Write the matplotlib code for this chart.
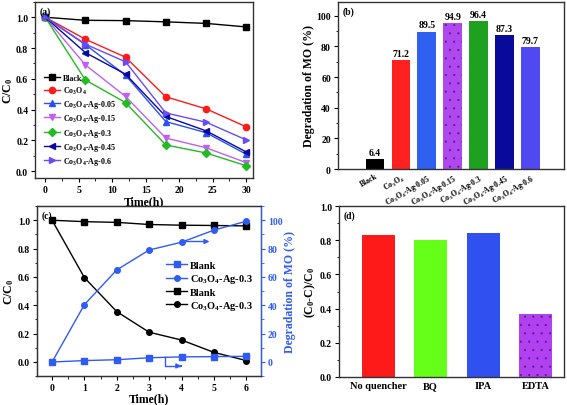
import matplotlib
matplotlib.use("Agg")
import matplotlib.pyplot as plt
import matplotlib.transforms as mtransforms
from matplotlib.ticker import MultipleLocator

plt.rcParams['font.family'] = ['Liberation Serif', 'DejaVu Serif']
plt.rcParams['font.weight'] = 'bold'
plt.rcParams['axes.labelweight'] = 'bold'
plt.rcParams['mathtext.fontset'] = 'custom'
plt.rcParams['mathtext.rm'] = 'Liberation Serif:bold'
plt.rcParams['mathtext.bf'] = 'Liberation Serif:bold'
plt.rcParams['mathtext.it'] = 'Liberation Serif:bold:italic'
plt.rcParams['mathtext.default'] = 'regular'
plt.rcParams['hatch.linewidth'] = 0.3

# (a) C/C0 vs time for all samples
time_a = [0, 6, 12, 18, 24, 30]
black_a = [1.0, 0.98, 0.978, 0.97, 0.96, 0.937]
co3o4_a = [1.0, 0.857, 0.74, 0.483, 0.405, 0.288]
ag005_a = [1.0, 0.822, 0.623, 0.322, 0.25, 0.11]
ag015_a = [1.0, 0.69, 0.485, 0.215, 0.152, 0.055]
ag03_a = [1.0, 0.592, 0.445, 0.17, 0.118, 0.035]
ag045_a = [1.0, 0.77, 0.63, 0.355, 0.262, 0.125]
ag06_a = [1.0, 0.825, 0.71, 0.378, 0.318, 0.203]

# (b) degradation of MO
samples_b = ['Black', 'Co$_3$O$_4$', 'Co$_3$O$_4$-Ag-0.05', 'Co$_3$O$_4$-Ag-0.15',
             'Co$_3$O$_4$-Ag-0.3', 'Co$_3$O$_4$-Ag-0.45', 'Co$_3$O$_4$-Ag-0.6']
degr_b = [6.4, 71.2, 89.5, 94.9, 96.4, 87.3, 79.7]

# (c) blank vs Co3O4-Ag-0.3
time_c = [0, 1, 2, 3, 4, 5, 6]
blank_c = [1.0, 0.99, 0.985, 0.97, 0.965, 0.963, 0.96]
ag03_c = [1.0, 0.595, 0.355, 0.21, 0.155, 0.068, 0.01]
blank_deg_c = [0, 1.0, 1.6, 3.0, 3.6, 3.8, 4.0]
ag03_deg_c = [0, 40.5, 65, 79, 84.5, 93, 99.3]

# (d) quenching experiments
quencher_d = ['No quencher', 'BQ', 'IPA', 'EDTA']
ratio_d = [0.83, 0.80, 0.84, 0.37]

spine_col = '#333333'
blue_c = '#2F5BF5'


def style_axes(ax):
    for s in ax.spines.values():
        s.set_color(spine_col)
        s.set_linewidth(1.0)
    ax.tick_params(which='both', direction='out', top=False, right=False, labelsize=7, pad=2)
    ax.tick_params(which='major', length=3, width=0.8)
    ax.tick_params(which='minor', length=1.8, width=0.6)


fig = plt.figure(figsize=(5.67, 4.06), dpi=100)

# ---------- (a)
ax1 = fig.add_axes([0.062, 0.559, 0.384, 0.434])
series_a = [
    (black_a, 'Black', 'black', 's'),
    (co3o4_a, 'Co$_3$O$_4$', '#FF1A1A', 'o'),
    (ag005_a, 'Co$_3$O$_4$-Ag-0.05', '#2A50F5', '^'),
    (ag015_a, 'Co$_3$O$_4$-Ag-0.15', '#C060F0', 'v'),
    (ag03_a, 'Co$_3$O$_4$-Ag-0.3', '#22BB22', 'D'),
    (ag045_a, 'Co$_3$O$_4$-Ag-0.45', '#0A0A9A', '<'),
    (ag06_a, 'Co$_3$O$_4$-Ag-0.6', '#6A4AF5', '>'),
]
for vals, lab, col, mk in series_a:
    ms = 3.6 if mk == 'D' else 4.5
    ax1.plot(time_a, vals, color=col, marker=mk, markersize=ms, lw=1.0, label=lab)
ax1.set_xlim(-1.5, 31)
ax1.set_ylim(-0.045, 1.1)
ax1.xaxis.set_major_locator(MultipleLocator(5))
ax1.xaxis.set_minor_locator(MultipleLocator(2.5))
ax1.yaxis.set_major_locator(MultipleLocator(0.2))
ax1.yaxis.set_minor_locator(MultipleLocator(0.1))
ax1.set_xlabel('Time(h)', fontsize=8.5, labelpad=1)
ax1.set_ylabel('C/C$_0$', fontsize=8.5, labelpad=1)
style_axes(ax1)
ax1.legend(loc='lower left', bbox_to_anchor=(0.02, 0.035), frameon=False, fontsize=5.8,
           handlelength=2.0, labelspacing=0.28, handletextpad=0.3, borderaxespad=0.2)
ax1.text(0.02, 0.975, '(a)', transform=ax1.transAxes, fontsize=7, va='top')

# ---------- (b)
ax2 = fig.add_axes([0.596, 0.581, 0.399, 0.412])
cols_b = ['black', '#FF2020', '#3060F0', '#B048F0', '#20A020', '#0A0A9A', '#5048F0']
xb = list(range(len(samples_b)))
bars = ax2.bar(xb, degr_b, width=0.72, color=cols_b)
bars[3].set_hatch('..')
bars[3].set_edgecolor('#5A1A80')
bars[3].set_linewidth(0)
for x, v in zip(xb, degr_b):
    ax2.text(x, v + 1.5, f'{v:.1f}', ha='center', va='bottom', fontsize=7)
ax2.set_xlim(-1.43, 7.3)
ax2.set_ylim(0, 109)
ax2.set_xticks(xb)
ax2.set_xticklabels(samples_b, rotation=30, ha='right', rotation_mode='anchor', fontsize=5.5)
shift = mtransforms.ScaledTranslation(8 / 100, -3 / 100, fig.dpi_scale_trans)
for lab in ax2.get_xticklabels():
    lab.set_transform(lab.get_transform() + shift)
ax2.yaxis.set_major_locator(MultipleLocator(20))
ax2.yaxis.set_minor_locator(MultipleLocator(10))
ax2.set_ylabel('Degradation of MO (%)', fontsize=8.5, labelpad=1)
style_axes(ax2)
ax2.tick_params(axis='x', which='both', length=0, pad=2, labelsize=5.5)
ax2.text(0.02, 0.975, '(b)', transform=ax2.transAxes, fontsize=7, va='top')

# ---------- (c)
ax3 = fig.add_axes([0.065, 0.071, 0.395, 0.419])
l3, = ax3.plot(time_c, blank_c, color='black', marker='s', markersize=4, lw=1.0, label='Blank')
l4, = ax3.plot(time_c, ag03_c, color='black', marker='o', markersize=4, lw=1.0, label='Co$_3$O$_4$-Ag-0.3')
ax3.set_xlim(-0.47, 6.45)
ax3.set_ylim(-0.1, 1.1)
ax3.xaxis.set_major_locator(MultipleLocator(1))
ax3.xaxis.set_minor_locator(MultipleLocator(0.5))
ax3.yaxis.set_major_locator(MultipleLocator(0.2))
ax3.yaxis.set_minor_locator(MultipleLocator(0.1))
ax3.set_xlabel('Time(h)', fontsize=8.5, labelpad=0)
ax3.set_ylabel('C/C$_0$', fontsize=8.5, labelpad=1)
style_axes(ax3)
ax3.text(0.02, 0.975, '(c)', transform=ax3.transAxes, fontsize=7, va='top')

ax3r = ax3.twinx()
l1, = ax3r.plot(time_c, blank_deg_c, color=blue_c, marker='s', markersize=4, lw=1.0, label='Blank')
l2, = ax3r.plot(time_c, ag03_deg_c, color=blue_c, marker='o', markersize=4, lw=1.0, label='Co$_3$O$_4$-Ag-0.3')
ax3r.set_ylim(-10, 110)
ax3r.yaxis.set_major_locator(MultipleLocator(20))
ax3r.yaxis.set_minor_locator(MultipleLocator(10))
ax3r.set_ylabel('Degradation of MO (%)', fontsize=8.5, color=blue_c, labelpad=1)
for s in ax3r.spines.values():
    s.set_color(spine_col)
ax3r.spines['right'].set_color(blue_c)
ax3r.tick_params(which='both', direction='out', right=True, left=False, colors=blue_c,
                 labelsize=7, pad=2)
ax3r.tick_params(which='major', length=3, width=0.8)
ax3r.tick_params(which='minor', length=1.8, width=0.6)
ax3r.annotate('', xy=(4.95, 85), xytext=(4.05, 85),
              arrowprops=dict(arrowstyle='-|>', color=blue_c, lw=1.0, mutation_scale=7))
ax3r.plot([3.48, 3.48, 3.95], [3.5, -2.8, -2.8], color=blue_c, lw=1.0)
ax3r.annotate('', xy=(4.08, -2.8), xytext=(3.9, -2.8),
              arrowprops=dict(arrowstyle='-|>', color=blue_c, lw=1.0, mutation_scale=7))
ax3r.legend([l1, l2, l3, l4], [l1.get_label(), l2.get_label(), l3.get_label(), l4.get_label()],
            loc='lower left', bbox_to_anchor=(0.55, 0.34), frameon=False, fontsize=7.5,
            handlelength=2.0, labelspacing=0.22, handletextpad=0.3, borderaxespad=0.2)

# ---------- (d)
ax4 = fig.add_axes([0.598, 0.069, 0.397, 0.421])
cols_d = ['#FF1A1A', '#66FF1A', '#3050F0', '#B040F0']
xd = list(range(len(quencher_d)))
bars_d = ax4.bar(xd, ratio_d, width=0.63, color=cols_d)
bars_d[3].set_hatch('..')
bars_d[3].set_edgecolor('#5A1A80')
bars_d[3].set_linewidth(0)
ax4.set_xlim(-0.75, 3.55)
ax4.set_ylim(0, 1.0)
ax4.set_xticks(xd)
ax4.set_xticklabels(quencher_d, fontsize=7.5)
ax4.yaxis.set_major_locator(MultipleLocator(0.2))
ax4.yaxis.set_minor_locator(MultipleLocator(0.1))
ax4.set_ylabel('(C$_0$-C)/C$_0$', fontsize=8.5, labelpad=1)
style_axes(ax4)
ax4.tick_params(axis='x', which='both', length=0, pad=3, labelsize=7.5)
ax4.text(0.02, 0.975, '(d)', transform=ax4.transAxes, fontsize=7, va='top')

fig.savefig('out.png', dpi=100)
